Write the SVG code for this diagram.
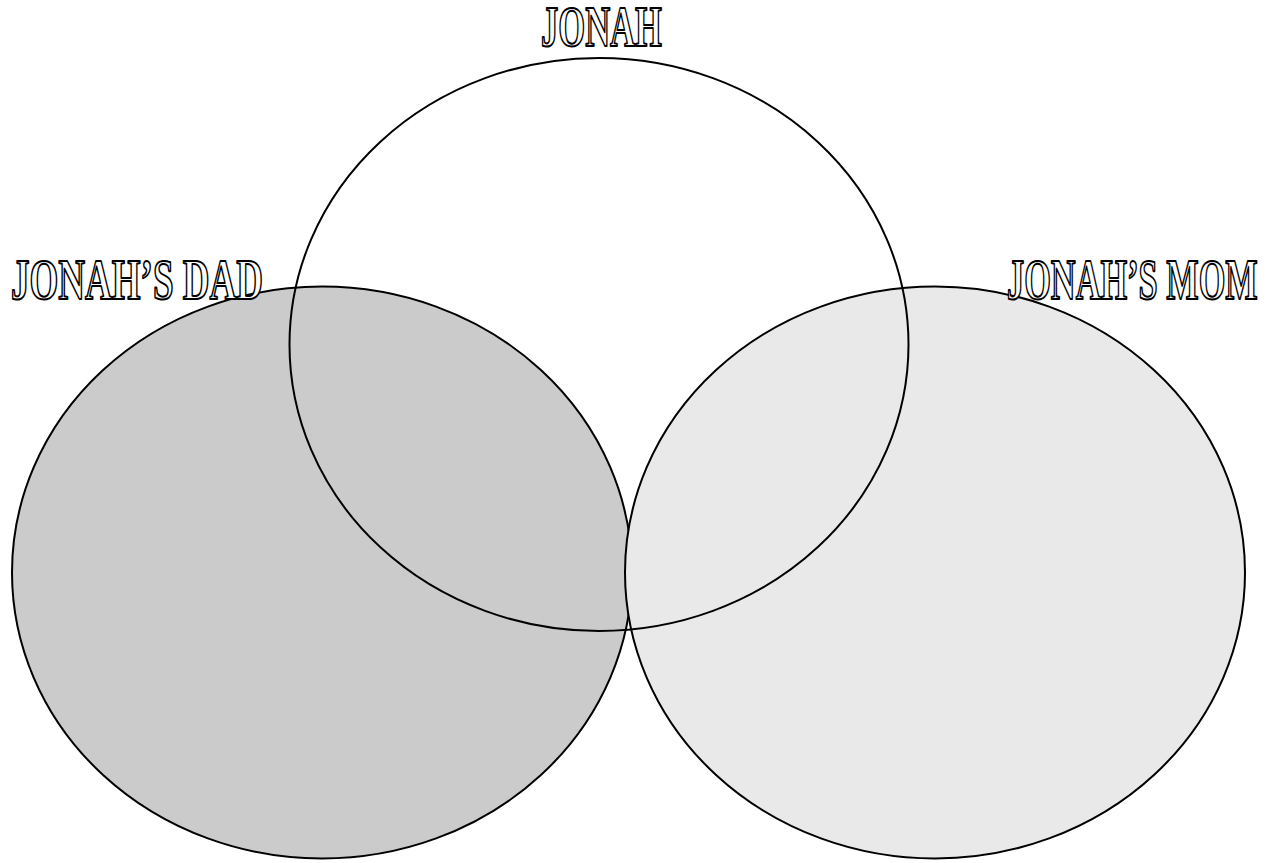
<svg xmlns="http://www.w3.org/2000/svg" width="1273" height="863" viewBox="0 0 1273 863">
<style>
.c{stroke:#000;stroke-width:2}
.t{font-family:"Liberation Serif","Times New Roman",serif;font-weight:bold;font-size:56px;fill:#fff;stroke:#000;stroke-width:1.7;stroke-linejoin:round;vector-effect:non-scaling-stroke}
</style>
<rect width="1273" height="863" fill="#fff"/>
<g id="dad">
<ellipse class="c" cx="322" cy="572.5" rx="310" ry="286" fill="#cbcbcb"/>
<text class="t" transform="translate(11,299) scale(0.63,1)" x="0" y="0" textLength="400" lengthAdjust="spacingAndGlyphs">JONAH’S DAD</text>
</g>
<g id="mom">
<ellipse class="c" cx="935" cy="572.5" rx="310" ry="286" fill="#e9e9e9"/>
<text class="t" transform="translate(1007,299) scale(0.63,1)" x="0" y="0" textLength="398" lengthAdjust="spacingAndGlyphs">JONAH’S MOM</text>
</g>
<g id="jonah">
<ellipse class="c" cx="599" cy="344.5" rx="309.5" ry="286.5" fill="none"/>
<text class="t" transform="translate(541,46) scale(0.63,1)" x="0" y="0" textLength="192" lengthAdjust="spacingAndGlyphs">JONAH</text>
</g>
<g id="connectors"></g>
</svg>
